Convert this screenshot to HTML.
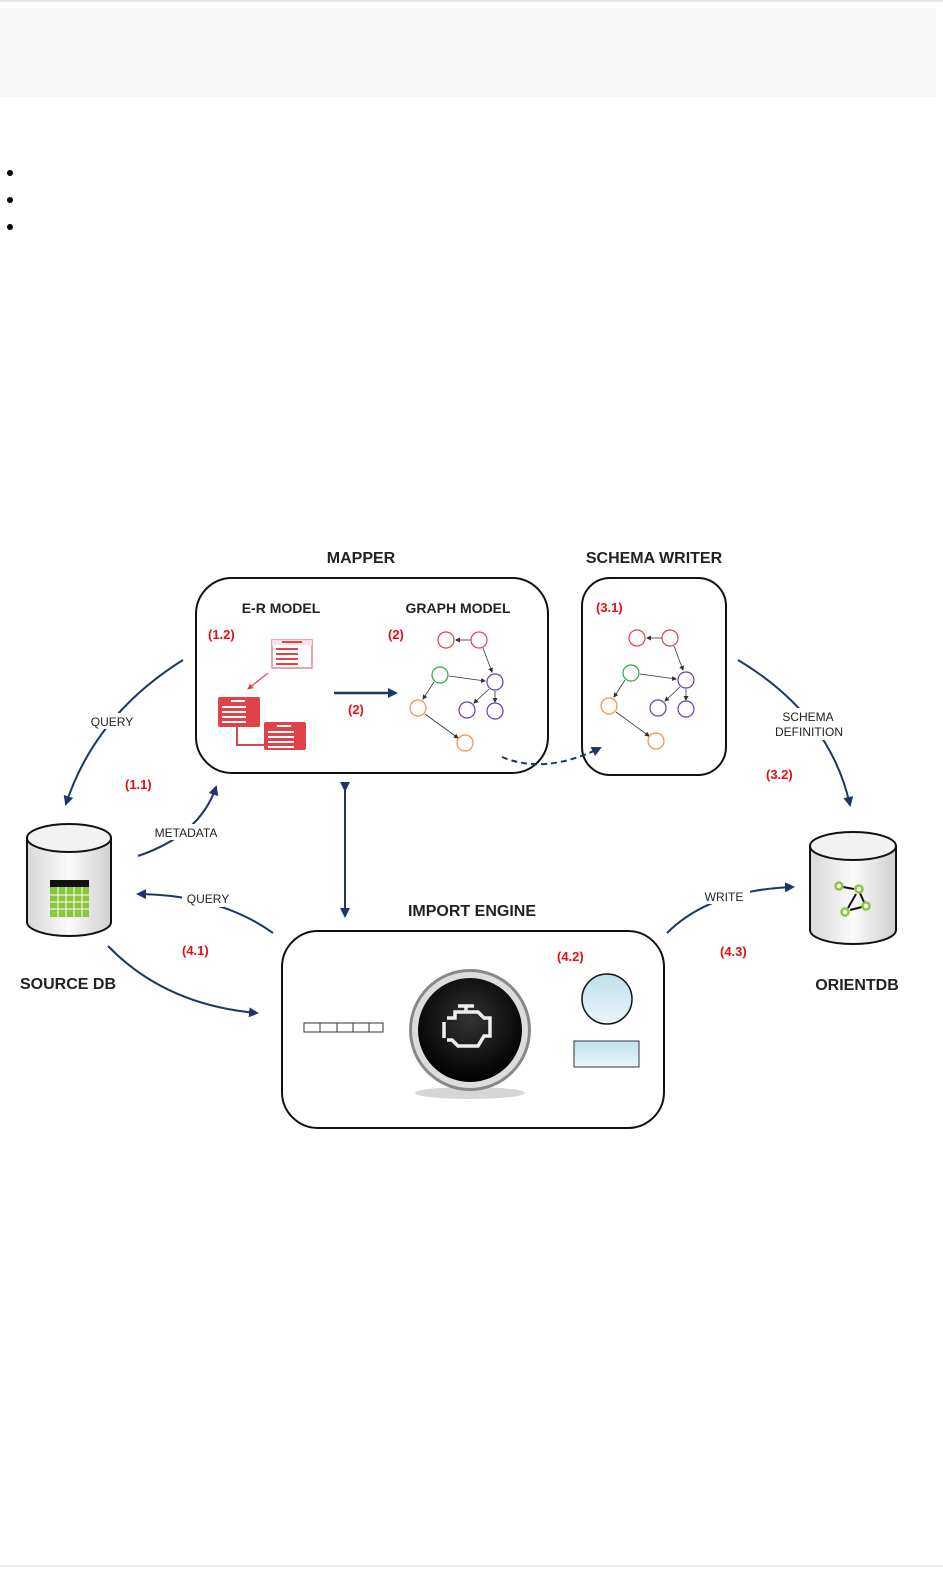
<!DOCTYPE html>
<html><head><meta charset="utf-8"><style>
body{margin:0;width:943px;height:1580px;background:#fff;position:relative;overflow:hidden;font-family:"Liberation Sans",sans-serif}
</style></head><body>
<div style="position:absolute;left:0;top:0;width:943px;height:2px;background:#e6e6e6"></div>
<div style="position:absolute;left:0;top:8px;width:936px;height:89px;background:#f6f6f6"></div>
<div style="position:absolute;left:0;top:1565px;width:943px;height:2px;background:#ececec"></div>
<svg width="943" height="1580" style="position:absolute;left:0;top:0" xmlns="http://www.w3.org/2000/svg">
<defs>
<marker id="a" markerWidth="10" markerHeight="10" refX="8" refY="5" orient="auto" markerUnits="userSpaceOnUse"><path d="M0,0 L10,5 L0,10 z" fill="#1c3766"/></marker>
<marker id="s" markerWidth="5" markerHeight="5" refX="4" refY="2.5" orient="auto" markerUnits="userSpaceOnUse"><path d="M0,0 L5,2.5 L0,5 z" fill="#333"/></marker>
<marker id="r" markerWidth="6" markerHeight="6" refX="5" refY="3" orient="auto" markerUnits="userSpaceOnUse"><path d="M0,0 L6,3 L0,6 z" fill="#e0424a"/></marker>
<linearGradient id="cyl" x1="0" x2="1"><stop offset="0" stop-color="#d8d8d8"/><stop offset=".5" stop-color="#fafafa"/><stop offset="1" stop-color="#cfcfcf"/></linearGradient>
<linearGradient id="blu" x1="0" y1="0" x2="0" y2="1"><stop offset="0" stop-color="#bfe0ea"/><stop offset="1" stop-color="#eaf6f9"/></linearGradient>
<radialGradient id="eng" cx=".5" cy=".4" r=".6"><stop offset="0" stop-color="#333"/><stop offset="1" stop-color="#000"/></radialGradient>
</defs>
<g fill="#000"><circle cx="10" cy="173" r="3"/><circle cx="10" cy="200" r="3"/><circle cx="10" cy="227" r="3"/></g>

<g font-weight="bold" fill="#222" font-size="16">
<text x="361" y="563" text-anchor="middle">MAPPER</text>
<text x="654" y="563" text-anchor="middle">SCHEMA WRITER</text>
<text x="472" y="916" text-anchor="middle">IMPORT ENGINE</text>
<text x="68" y="989" text-anchor="middle">SOURCE DB</text>
<text x="857" y="990" text-anchor="middle">ORIENTDB</text>
<text x="281" y="613" text-anchor="middle" font-size="14">E-R MODEL</text>
<text x="458" y="613" text-anchor="middle" font-size="14">GRAPH MODEL</text>
</g>
<g font-weight="bold" fill="#e0101a" font-size="13">
<text x="208" y="639">(1.2)</text><text x="388" y="639">(2)</text><text x="348" y="714">(2)</text>
<text x="596" y="612">(3.1)</text><text x="125" y="789">(1.1)</text><text x="766" y="779">(3.2)</text>
<text x="182" y="955">(4.1)</text><text x="557" y="961">(4.2)</text><text x="720" y="956">(4.3)</text>
</g>

<g fill="none" stroke="#111" stroke-width="2">
<rect x="196" y="578" width="352" height="195" rx="36"/>
<rect x="582" y="578" width="144" height="197" rx="28"/>
<rect x="282" y="931" width="382" height="197" rx="36"/>
</g>

<!-- ER icons -->
<g>
<rect x="272" y="640" width="40" height="28" fill="#fff" stroke="#eb8088" stroke-width="1.5"/>
<rect x="272" y="640" width="40" height="5" fill="#fbe3e5"/><rect x="282" y="641" width="20" height="2" fill="#e0424a"/>
<g fill="#e0424a"><rect x="276" y="648" width="22" height="2"/><rect x="276" y="653" width="22" height="2"/><rect x="276" y="658" width="22" height="2"/><rect x="276" y="663" width="22" height="2"/></g>
<line x1="268" y1="673" x2="248" y2="689" stroke="#e0424a" stroke-width="1.2" marker-end="url(#r)"/>
<path d="M237 725 V745 H270" fill="none" stroke="#e0424a" stroke-width="2"/>
<rect x="218" y="697" width="42" height="30" rx="2" fill="#e0424a"/>
<rect x="264" y="722" width="42" height="28" rx="2" fill="#e0424a"/>
<g fill="#fff"><rect x="231" y="700" width="14" height="2"/><rect x="222" y="706" width="24" height="2"/><rect x="222" y="711" width="24" height="2"/><rect x="222" y="716" width="24" height="2"/><rect x="222" y="721" width="24" height="2"/>
<rect x="277" y="725" width="14" height="2"/><rect x="268" y="731" width="26" height="2"/><rect x="268" y="736" width="26" height="2"/><rect x="268" y="741" width="26" height="2"/><rect x="268" y="746" width="26" height="2"/></g>
</g>
<line x1="334" y1="693" x2="396" y2="693" stroke="#1c3766" stroke-width="2.5" marker-end="url(#a)"/>

<!-- graphs -->
<g id="g1" fill="none" stroke-width="1.2">
<g stroke="#333" stroke-width=".8">
<line x1="471" y1="640" x2="456" y2="640" marker-end="url(#s)"/>
<line x1="483" y1="648" x2="492" y2="672" marker-end="url(#s)"/>
<line x1="449" y1="676" x2="485" y2="681" marker-end="url(#s)"/>
<line x1="434" y1="682" x2="423" y2="699" marker-end="url(#s)"/>
<line x1="489" y1="689" x2="474" y2="703" marker-end="url(#s)"/>
<line x1="495" y1="691" x2="495" y2="702" marker-end="url(#s)"/>
<line x1="425" y1="714" x2="458" y2="738" marker-end="url(#s)"/>
</g>
<circle cx="446" cy="640" r="8" stroke="#e0424a"/><circle cx="479" cy="640" r="8" stroke="#e0424a"/>
<circle cx="440" cy="675" r="8" stroke="#2eaa3a"/>
<circle cx="495" cy="682" r="8" stroke="#6a3aa8"/><circle cx="467" cy="710" r="8" stroke="#6a3aa8"/><circle cx="495" cy="711" r="8" stroke="#6a3aa8"/>
<circle cx="418" cy="708" r="8" stroke="#f09048"/><circle cx="465" cy="743" r="8" stroke="#f09048"/>
</g>
<use href="#g1" transform="translate(191,-2)"/>

<path d="M502 757 Q545 775 600 748" fill="none" stroke="#1c3766" stroke-width="2" stroke-dasharray="6,4" marker-end="url(#a)"/>

<!-- connectors -->
<g fill="none" stroke="#1c3766" stroke-width="2">
<path d="M183 660 Q95 715 66 804" marker-end="url(#a)"/>
<path d="M138 856 Q200 835 216 787" marker-end="url(#a)"/>
<path d="M273 933 Q220 895 138 894" marker-end="url(#a)"/>
<path d="M108 946 Q165 1005 257 1013" marker-end="url(#a)"/>
<line x1="345" y1="790" x2="345" y2="916" marker-start="url(#a)" marker-end="url(#a)"/>
<path d="M738 660 Q830 715 850 805" marker-end="url(#a)"/>
<path d="M667 933 Q710 890 793 887" marker-end="url(#a)"/>
</g>
<g font-size="12" fill="#222" text-anchor="middle">
<rect x="86" y="713" width="52" height="16" fill="#fff"/><text x="112" y="726">QUERY</text>
<rect x="146" y="824" width="80" height="16" fill="#fff"/><text x="186" y="837">METADATA</text>
<rect x="182" y="891" width="52" height="16" fill="#fff"/><text x="208" y="903">QUERY</text>
<rect x="772" y="708" width="76" height="32" fill="#fff"/><text x="808" y="721">SCHEMA</text><text x="809" y="736">DEFINITION</text>
<rect x="700" y="888" width="50" height="16" fill="#fff"/><text x="724" y="901">WRITE</text>
</g>

<!-- cylinders -->
<g stroke="#111" stroke-width="2">
<path d="M27 838 V922 A42 14 0 0 0 111 922 V838" fill="url(#cyl)"/>
<ellipse cx="69" cy="838" rx="42" ry="14" fill="#f2f2f2"/>
<path d="M810 846 V930 A43 14 0 0 0 896 930 V846" fill="url(#cyl)"/>
<ellipse cx="853" cy="846" rx="43" ry="14" fill="#f2f2f2"/>
</g>
<rect x="50" y="880" width="39" height="37" fill="#8cc63e"/><rect x="50" y="880" width="39" height="7" fill="#111"/>
<g stroke="#fff" stroke-width="1"><line x1="58" y1="887" x2="58" y2="917"/><line x1="66" y1="887" x2="66" y2="917"/><line x1="74" y1="887" x2="74" y2="917"/><line x1="82" y1="887" x2="82" y2="917"/><line x1="50" y1="895" x2="89" y2="895"/><line x1="50" y1="902" x2="89" y2="902"/><line x1="50" y1="909" x2="89" y2="909"/></g>
<g stroke="#111" stroke-width="2"><line x1="843" y1="887" x2="854" y2="889"/><line x1="856" y1="894" x2="848" y2="908"/><line x1="850" y1="910" x2="862" y2="907"/><line x1="859" y1="891" x2="864" y2="902"/></g>
<g fill="#fff" stroke="#8cc63e" stroke-width="2.5"><circle cx="839" cy="886" r="3.5"/><circle cx="859" cy="889" r="3.5"/><circle cx="845" cy="912" r="3.5"/><circle cx="866" cy="906" r="3.5"/></g>

<!-- import engine contents -->
<g fill="#fff" stroke="#333" stroke-width="1"><rect x="304" y="1023" width="16" height="9"/><rect x="320" y="1023" width="17" height="9"/><rect x="337" y="1023" width="16" height="9"/><rect x="353" y="1023" width="16" height="9"/><rect x="369" y="1023" width="14" height="9"/></g>
<ellipse cx="470" cy="1093" rx="55" ry="6" fill="#bbb" opacity=".6"/>
<circle cx="470" cy="1030" r="61" fill="#888"/>
<circle cx="470" cy="1030" r="58" fill="#ddd"/>
<circle cx="470" cy="1030" r="52" fill="url(#eng)"/>
<path d="M447 1018 H455 V1012 H478 L484 1018 H490 V1036 H484 L478 1046 H458 L452 1040 H447 M444 1022 V1038 M458 1006 H474 M466 1006 V1012" fill="none" stroke="#eee" stroke-width="3.5"/>
<circle cx="607" cy="999" r="25" fill="url(#blu)" stroke="#111" stroke-width="1.5"/>
<rect x="574" y="1041" width="65" height="26" fill="url(#blu)" stroke="#333" stroke-width="1"/>
</svg>
</body></html>
